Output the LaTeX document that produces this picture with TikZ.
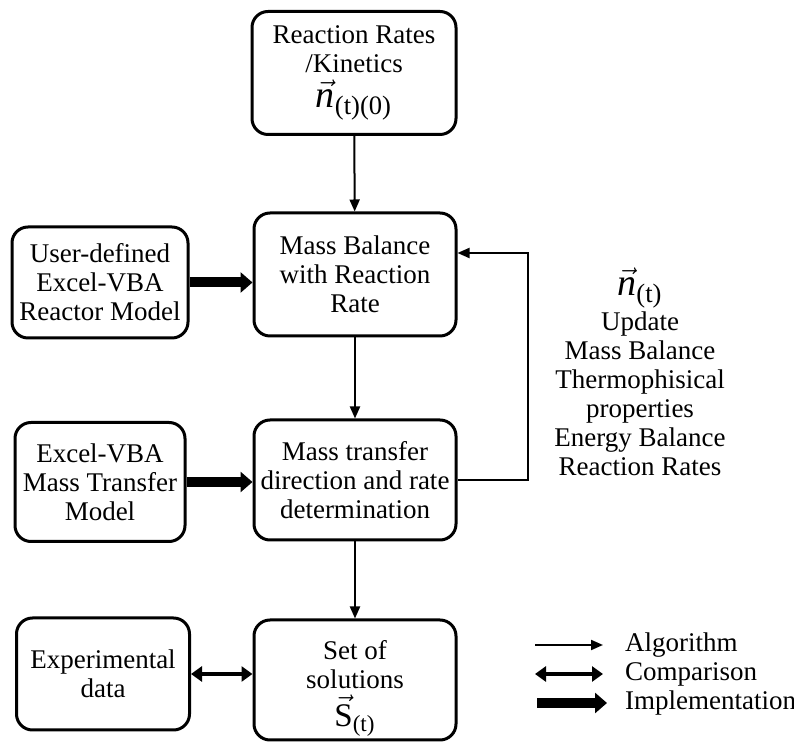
\documentclass[tikz,border=0pt]{standalone}
\usepackage{amsmath}
\usepackage{fontspec}
\setmainfont{Liberation Serif}
\usetikzlibrary{arrows.meta}

\newcommand{\bigvec}[2]{{\fontsize{19}{20}\selectfont$\vec{\textit{#1}}_{\text{#2}}$}}

\begin{document}
\begin{tikzpicture}[x=0.5pt,y=-0.5pt,
	box/.style={draw, line width=1.5pt, rounded corners=8pt, align=center, inner sep=0pt},
	algo/.style={line width=1pt, -{Triangle[length=6pt,width=5pt]}},
	compare/.style={line width=2pt, {Triangle[length=5.5pt,width=7.5pt]}-{Triangle[length=5.5pt,width=7.5pt]}},
	impl/.style={line width=5pt, -{Triangle[length=6pt,width=10pt]}}]
	\tikzstyle{every node}+=[font=\fontsize{13.5}{14.5}\selectfont]
	\useasboundingbox (0,0) rectangle (794,742);

	% main column
	\node [box, minimum width=102pt, minimum height=61.5pt] (rates) at (354,73)
		{Reaction Rates\\/Kinetics\\[3pt]\bigvec{n}{(t)(0)}};
	\node [box, minimum width=101pt, minimum height=61.5pt] (balance) at (355,274.5)
		{Mass Balance\\with Reaction\\Rate};
	\node [box, minimum width=101pt, minimum height=60pt] (transfer) at (355,480)
		{Mass transfer\\direction and rate\\determination};
	\node [box, minimum width=101pt, minimum height=60pt] (solutions) at (355,680)
		{\rule{0pt}{18pt}Set of\\solutions\\[2pt]{\fontsize{16.5}{18}\selectfont$\vec{\text{S}}_{\text{(t)}}$}};

	% side boxes
	\node [box, minimum width=88pt, minimum height=55.5pt] (user) at (100,282.5)
		{User-defined\\Excel-VBA\\Reactor Model};
	\node [box, minimum width=85pt, minimum height=59.5pt] (vba) at (100,482)
		{Excel-VBA\\Mass Transfer\\Model};
	\node [box, minimum width=86.5pt, minimum height=56pt] (expdata) at (103,674)
		{Experimental\\data};

	\draw [algo] (rates) -- (balance);
	\draw [algo] (balance) -- (transfer);
	\draw [algo] (transfer) -- (solutions);
	\draw [impl] (user.east) -- (user.east -| balance.west);
	\draw [impl] (vba.east) -- (vba.east -| transfer.west);
	\draw [compare] (expdata.east) -- (expdata.east -| solutions.west);

	% update loop
	\coordinate (loop) at (528,253);
	\draw [algo] (transfer.east) -| (loop) -- (balance.east |- loop);
	\node [align=center] (update) at (640,372)
		{\bigvec{n}{(t)}\\[1pt]Update\\Mass Balance\\Thermophisical\\properties\\Energy Balance\\Reaction Rates};

	% legend
	\coordinate (a1) at (535,645);
	\coordinate (a2) at (603,645);
	\coordinate (c1) at (535,674);
	\coordinate (c2) at (603,674);
	\coordinate (i1) at (537,703);
	\coordinate (i2) at (607,703);
	\draw [algo] (a1) -- (a2);
	\draw [compare] (c1) -- (c2);
	\draw [impl] (i1) -- (i2);
	\node [anchor=west] (algolabel) at (618,645) {Algorithm};
	\node [anchor=west] (complabel) at (618,674) {Comparison};
	\node [anchor=west] (impllabel) at (618,703) {Implementation};
\end{tikzpicture}
\end{document}
